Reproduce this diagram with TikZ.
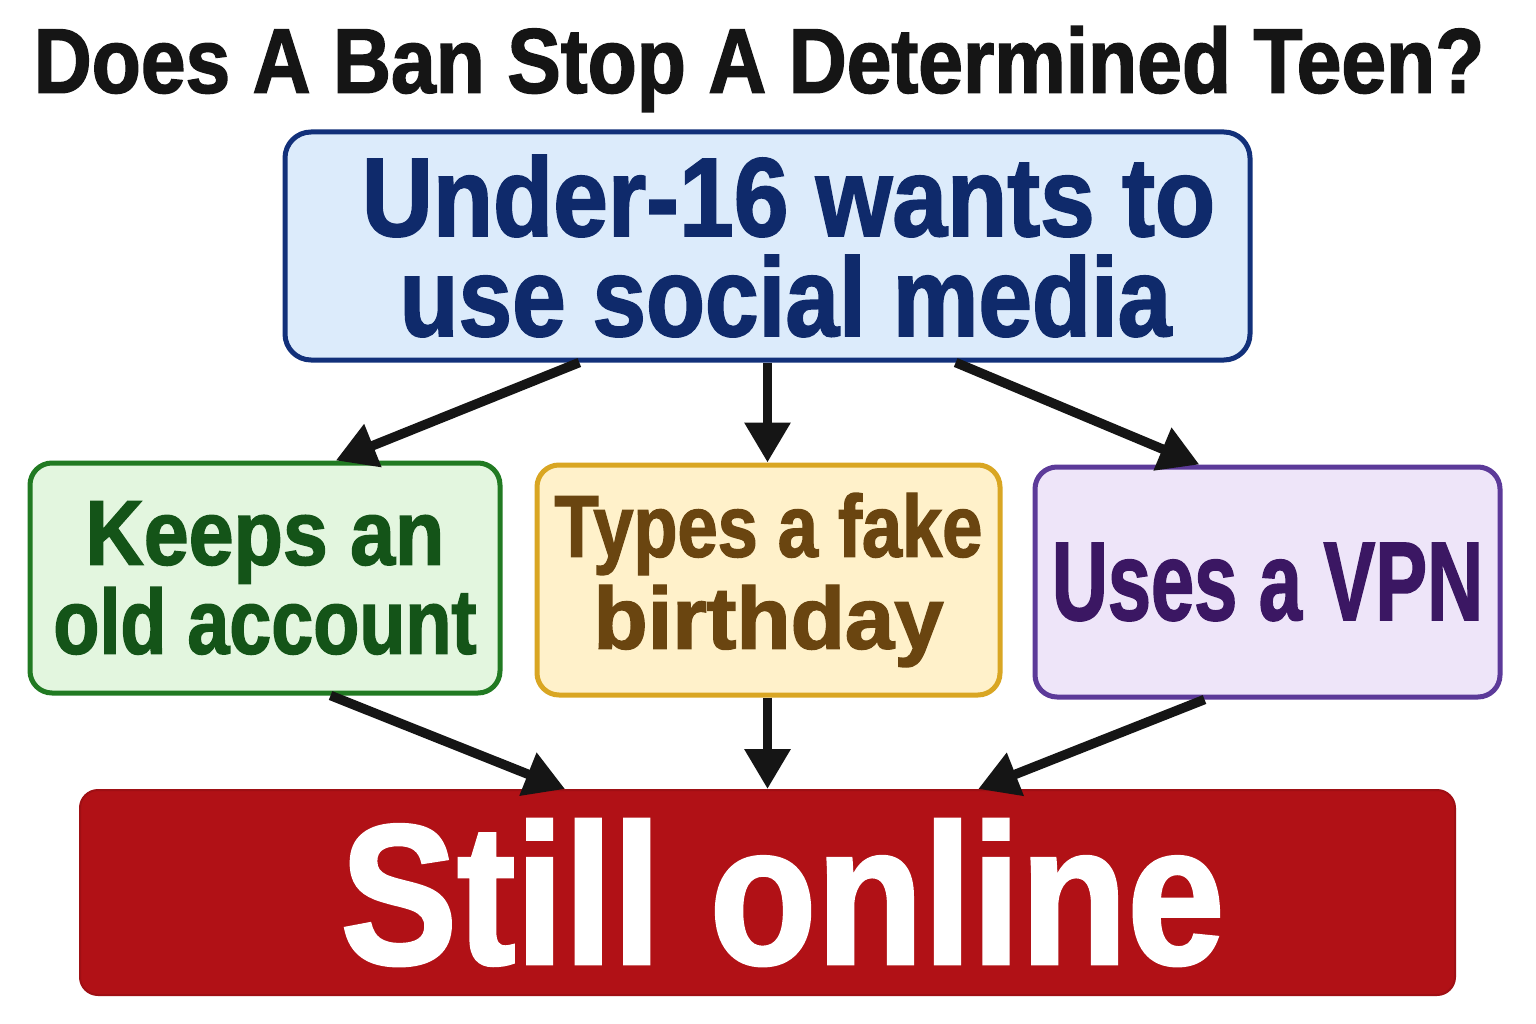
\documentclass[tikz,border=0pt]{standalone}
\usepackage{fontspec}
\setmainfont{Liberation Sans}
\newfontfamily\hfont[FakeStretch=0.82,FakeBold=1.5]{Liberation Sans Bold}
\usetikzlibrary{arrows.meta,calc}
\definecolor{bluefill}{HTML}{DCEBFB}
\definecolor{blueline}{HTML}{12307A}
\definecolor{bluetext}{HTML}{0F2A6B}
\definecolor{greenfill}{HTML}{E3F6DF}
\definecolor{greenline}{HTML}{217A22}
\definecolor{greentext}{HTML}{145418}
\definecolor{yellowfill}{HTML}{FFF1CA}
\definecolor{yellowline}{HTML}{D9A623}
\definecolor{yellowtext}{HTML}{6A4510}
\definecolor{purplefill}{HTML}{EEE5F9}
\definecolor{purpleline}{HTML}{5C3A99}
\definecolor{purpletext}{HTML}{3B1763}
\definecolor{redfill}{HTML}{B11116}
\definecolor{inkblack}{HTML}{151515}
\newcommand{\hs}[2]{\scalebox{#1}[1]{#2}}
\tikzset{
  box/.style={rectangle, line width=5pt, inner sep=0pt, align=center},
  conn/.style={line width=9.5pt, draw=inkblack, -{Triangle[length=40pt,width=44pt]}},
}
\begin{document}
\begin{tikzpicture}[x=1pt,y=-1pt]
\useasboundingbox[fill=white] (0,0) rectangle (1536,1024);
\node[font=\hfont\fontsize{92}{96}\selectfont, text=inkblack] (title) at (759,69) {\hs{1.066}{Does A Ban Stop A Determined Teen?}};
\node[box, draw=blueline, fill=bluefill, rounded corners=26pt, minimum width=965pt, minimum height=228pt,
      text=bluetext, font=\hfont\fontsize{112}{100}\selectfont] (top) at (767.5,246)
      {\hspace*{42pt}\hs{1.072}{Under-16 wants to}\\\hspace*{36pt}\hs{1.05}{use social media}};
\node[box, draw=greenline, fill=greenfill, rounded corners=22pt, minimum width=470pt, minimum height=230pt,
      text=greentext, font=\hfont\fontsize{92}{89}\selectfont] (green) at (265,578) {\hs{1.07}{Keeps an}\\old account};
\node[box, draw=yellowline, fill=yellowfill, rounded corners=22pt, minimum width=463pt, minimum height=230pt,
      text=yellowtext, font=\hfont\fontsize{88}{92}\selectfont] (yellow) at (768.5,580) {Types a fake\\\hs{1.23}{birthday}};
\node[box, draw=purpleline, fill=purplefill, rounded corners=22pt, minimum width=465pt, minimum height=230pt,
      text=purpletext, font=\hfont\fontsize{112}{100}\selectfont] (purple) at (1267.5,582) {\hs{0.845}{Uses a VPN}};
\node[box, draw=redfill!90!black, line width=2pt, fill=redfill, rounded corners=18pt, minimum width=1375pt, minimum height=205pt,
      text=white, font=\hfont\fontsize{200}{200}\selectfont] (red) at (767.5,892.5) {\hspace*{30pt}\hs{1.066}{Still online}};
% connectors
\draw[conn] ($(top.south west)!0.306!(top.south east)$) -- ($(green.north west)!0.649!(green.north east)$);
\draw[conn] (top.south) -- (yellow.north -| top.south);
\draw[conn] ($(top.south west)!0.694!(top.south east)$) -- ($(purple.north west)!0.355!(purple.north east)$);
\draw[conn] ($(green.south west)!0.638!(green.south east)$) -- ($(red.north west)!0.353!(red.north east)$);
\draw[conn] (yellow.south -| top.south) -- (red.north);
\draw[conn] ($(purple.south west)!0.366!(purple.south east)$) -- ($(red.north west)!0.653!(red.north east)$);
\end{tikzpicture}
\end{document}
